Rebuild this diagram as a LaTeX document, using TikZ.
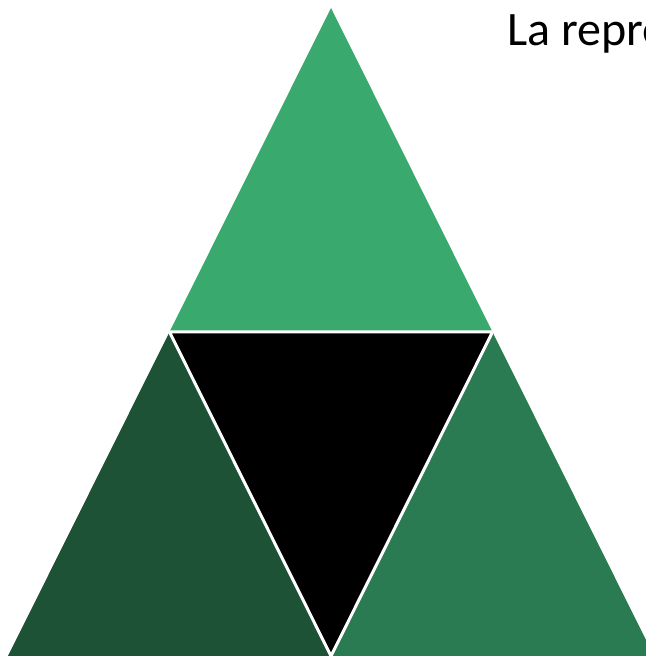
\documentclass[tikz,border=0pt]{standalone}
\usepackage{fontspec}
\setmainfont{Carlito}
\usetikzlibrary{calc}
\definecolor{triTop}{HTML}{3AA96E}
\definecolor{triLeft}{HTML}{1E5237}
\definecolor{triRight}{HTML}{2A7A52}
\tikzset{
  piece/.style   = {draw=none},
  hole/.style    = {fill=black, draw=white, line width=3pt, line join=miter},
  caption/.style = {font=\fontsize{48}{56}\selectfont, inner sep=0pt, anchor=base west},
}
\begin{document}
\begin{tikzpicture}[x=1pt,y=1pt]
  \useasboundingbox (0,0) rectangle (646,657);
  \clip (0,0) rectangle (646,657);
  % outer corners
  \coordinate (A) at (331,649);
  \coordinate (B) at (8,1);
  \coordinate (C) at (654,1);
  % midpoints
  \coordinate (AB) at ($(A)!0.5!(B)$);
  \coordinate (AC) at ($(A)!0.5!(C)$);
  \coordinate (BC) at ($(B)!0.5!(C)$);
  \fill[piece, triTop]   (A) -- (AB) -- (AC) -- cycle;
  \fill[piece, triLeft]  (AB) -- (B) -- (BC) -- cycle;
  \fill[piece, triRight] (AC) -- (BC) -- (C) -- cycle;
  \draw[hole] (AB) -- (AC) -- (BC) -- cycle;
  \node[caption] (title) at (507,611) {La repre};
\end{tikzpicture}
\end{document}
